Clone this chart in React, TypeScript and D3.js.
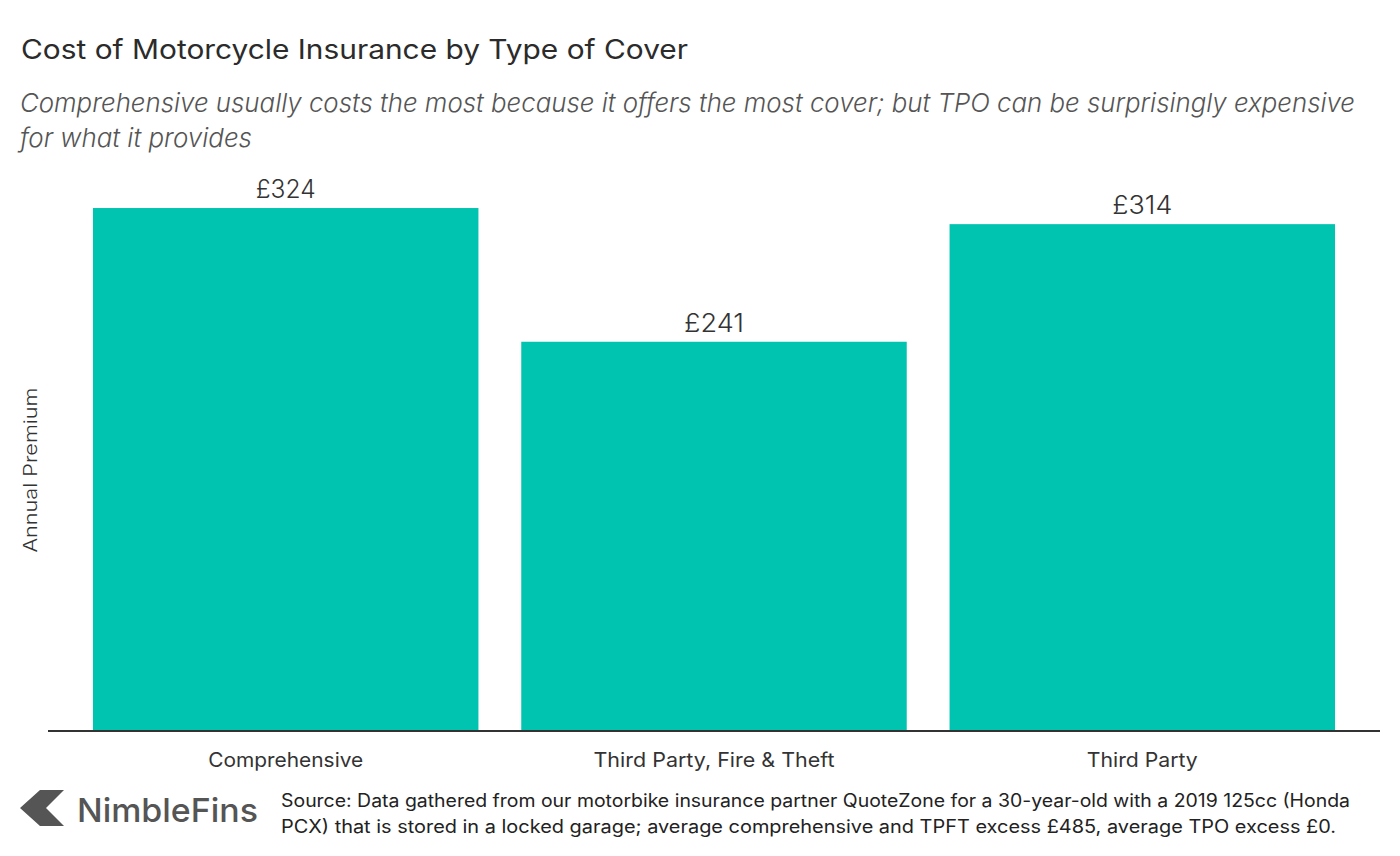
import React from "react";
import * as d3 from "d3";

const categories = ["Comprehensive", "Third Party, Fire & Theft", "Third Party"];
const premiums = [324, 241, 314];
const valueLabels = ["£324", "£241", "£314"];
const title = "Cost of Motorcycle Insurance by Type of Cover";
const subtitleLines = [
  "Comprehensive usually costs the most because it offers the most cover; but TPO can be surprisingly expensive",
  "for what it provides",
];
const sourceLines = [
  "Source: Data gathered from our motorbike insurance partner QuoteZone for a 30-year-old with a 2019 125cc (Honda",
  "PCX) that is stored in a locked garage; average comprehensive and TPFT excess £485, average TPO excess £0.",
];
const yLabel = "Annual Premium";

const W = 1400;
const H = 856;
const FONT = "Inter, Roboto, sans-serif";

export default function App() {
  const left = 48;
  const right = 1380;
  const baseline = 730;
  const x = d3.scaleBand<string>().domain(categories).range([left, right]).paddingInner(0.1).paddingOuter(0.105);
  const y = d3.scaleLinear().domain([0, 340]).range([baseline, baseline - 340 * 1.611]);
  const catWidths = [155, 241, 111];
  const subWidths = [1335, 232];
  const srcWidths = [1069, 1055];

  return (
    <svg width={W} height={H} style={{ position: "absolute", left: 0, top: 0, background: "#fff" }} fontFamily={FONT}>
      <rect x={0} y={0} width={W} height={H} fill="#fff" />
      <text x={21} y={59} fontSize={27} fill="#2b2b2b" fontWeight={400} textLength={667} lengthAdjust="spacingAndGlyphs">{title}</text>
      {subtitleLines.map((l, i) => (
        <text key={i} x={20} y={112 + i * 35} fontSize={26} fill="#555" fontStyle="italic" fontWeight={300} textLength={subWidths[i]} lengthAdjust="spacingAndGlyphs">{l}</text>
      ))}
      {categories.map((c, i) => (
        <g key={c}>
          <rect x={x(c)} y={y(premiums[i])} width={x.bandwidth()} height={baseline - y(premiums[i])} fill="#00c4b0" />
          <text x={(x(c) as number) + x.bandwidth() / 2} y={y(premiums[i]) - 10} textAnchor="middle" fontSize={25} fill="#333" fontWeight={300} textLength={60} lengthAdjust="spacingAndGlyphs">{valueLabels[i]}</text>
          <text x={(x(c) as number) + x.bandwidth() / 2} y={767} textAnchor="middle" fontSize={20} fill="#333" textLength={catWidths[i]} lengthAdjust="spacingAndGlyphs">{c}</text>
        </g>
      ))}
      <line x1={left} x2={right} y1={baseline + 1} y2={baseline + 1} stroke="#333" strokeWidth={2} />
      <text transform={`translate(37,470) rotate(-90)`} textAnchor="middle" fontSize={18} fill="#333" fontWeight={300} textLength={165} lengthAdjust="spacingAndGlyphs">{yLabel}</text>
      <path d="M20,808 L40,790 L64,790 L46,808 L64,826 L40,826 Z" fill="#555" />
      <text x={77} y={822} fontSize={33} fill="#555" fontWeight={500} textLength={181} lengthAdjust="spacingAndGlyphs">NimbleFins</text>
      {sourceLines.map((l, i) => (
        <text key={i} x={281} y={807 + i * 26} fontSize={18} fill="#222" textLength={srcWidths[i]} lengthAdjust="spacingAndGlyphs">{l}</text>
      ))}
    </svg>
  );
}
